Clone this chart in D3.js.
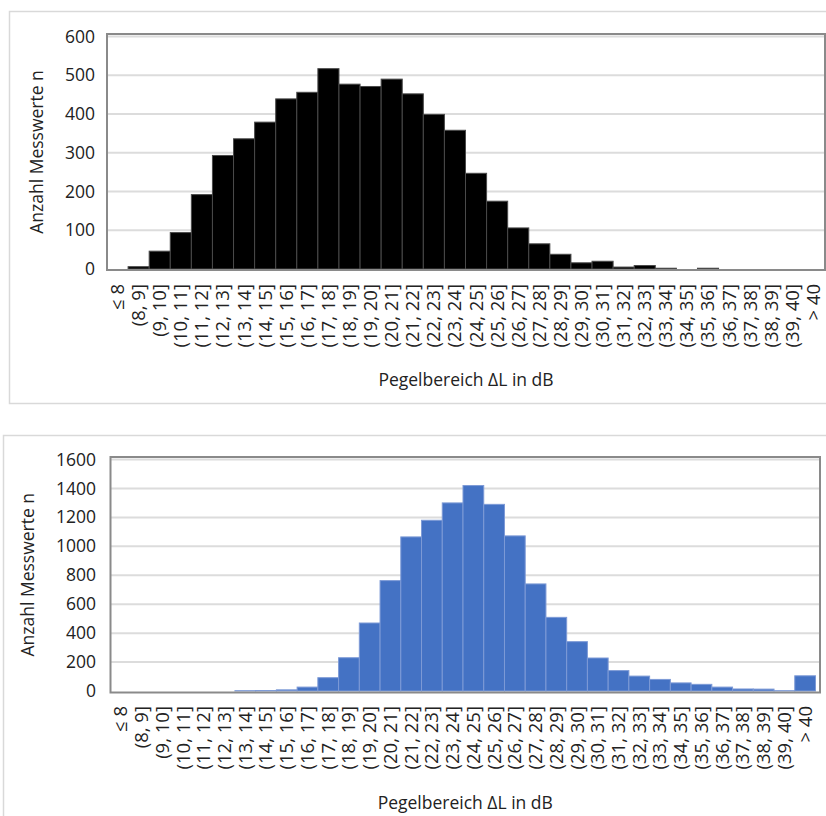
<!DOCTYPE html>
<html>
<head>
<meta charset="utf-8">
<script src="https://cdn.jsdelivr.net/npm/d3@7"></script>
<style>
  body { margin: 0; background: #fff; }
</style>
</head>
<body>
<div id="chart"></div>
<script>
// level range classes (dB)
const categories = [
  "≤ 8", "(8, 9]", "(9, 10]", "(10, 11]", "(11, 12]", "(12, 13]", "(13, 14]", "(14, 15]",
  "(15, 16]", "(16, 17]", "(17, 18]", "(18, 19]", "(19, 20]", "(20, 21]", "(21, 22]", "(22, 23]",
  "(23, 24]", "(24, 25]", "(25, 26]", "(26, 27]", "(27, 28]", "(28, 29]", "(29, 30]", "(30, 31]",
  "(31, 32]", "(32, 33]", "(33, 34]", "(34, 35]", "(35, 36]", "(36, 37]", "(37, 38]", "(38, 39]",
  "(39, 40]", "> 40"
];

const countsTop = [
  0, 6, 46, 94, 192, 293, 336, 379,
  439, 456, 517, 477, 471, 490, 452, 399,
  358, 247, 175, 106, 65, 38, 16, 20,
  5, 9, 2, 0, 2, 0, 0, 0,
  0, 0
];

const countsBottom = [
  0, 0, 0, 0, 0, 0, 2, 3,
  8, 27, 92, 230, 470, 763, 1065, 1180,
  1300, 1420, 1290, 1072, 740, 509, 341, 228,
  141, 103, 80, 56, 46, 27, 14, 13,
  2, 105
];

const ticksTop = [0, 100, 200, 300, 400, 500, 600];
const ticksBottom = [0, 200, 400, 600, 800, 1000, 1200, 1400, 1600];

const yTitle = "Anzahl Messwerte n";
const xTitle = "Pegelbereich \u0394L in dB";

const width = 826;
const height = 816;
const font = "'Open Sans', sans-serif";

const svg = d3.create("svg")
  .attr("width", width)
  .attr("height", height)
  .attr("viewBox", [0, 0, width, height])
  .style("font-family", font);

function drawChart(cfg) {
  const g = svg.append("g");

  // outer chart border
  g.append("rect")
    .attr("x", cfg.box[0] + 0.5)
    .attr("y", cfg.box[1] + 0.5)
    .attr("width", cfg.box[2])
    .attr("height", cfg.box[3])
    .attr("fill", "#fff")
    .attr("stroke", "#d9d9d9")
    .attr("stroke-width", 1.5);

  const x = d3.scaleBand()
    .domain(categories)
    .range([cfg.barLeft, cfg.barRight])
    .padding(0);

  const y = d3.scaleLinear()
    .domain([0, cfg.max])
    .range([cfg.y0, cfg.yMax]);

  // gridlines
  g.append("g")
    .selectAll("line")
    .data(cfg.ticks.slice(1))
    .join("line")
    .attr("x1", cfg.left)
    .attr("x2", cfg.right)
    .attr("y1", d => y(d))
    .attr("y2", d => y(d))
    .attr("stroke", "#dcdcdc")
    .attr("stroke-width", 2);

  g.append("g")
    .selectAll("rect")
    .data(cfg.values)
    .join("rect")
    .attr("x", (d, i) => x(categories[i]))
    .attr("y", d => y(d))
    .attr("width", x.bandwidth())
    .attr("height", d => y(0) - y(d))
    .attr("fill", cfg.fill)
    .attr("stroke", d => d > 0 ? cfg.stroke : "none")
    .attr("stroke-width", 1);

  // plot area frame
  g.append("rect")
    .attr("x", cfg.left)
    .attr("y", cfg.frameTop)
    .attr("width", cfg.right - cfg.left)
    .attr("height", cfg.frameBottom - cfg.frameTop)
    .attr("fill", "none")
    .attr("stroke", "#8a8a8a")
    .attr("stroke-width", 2);

  // y axis labels
  const yAxis = d3.axisLeft(y)
    .tickValues(cfg.ticks)
    .tickFormat(d3.format("d"))
    .tickSize(0)
    .tickPadding(0);
  g.append("g")
    .attr("transform", `translate(${cfg.yLabelX},0)`)
    .call(yAxis)
    .call(s => s.select(".domain").remove())
    .selectAll("text")
    .attr("font-family", font)
    .attr("font-size", 17.5)
    .attr("fill", "#222");

  // x axis labels, rotated
  const xAxis = d3.axisBottom(x).tickSize(0).tickPadding(0);
  g.append("g")
    .attr("transform", `translate(0,${cfg.xLabelTop})`)
    .call(xAxis)
    .call(s => s.select(".domain").remove())
    .selectAll("text")
    .attr("font-family", font)
    .attr("font-size", 18.5)
    .attr("fill", "#222")
    .attr("text-anchor", "end")
    .attr("y", 0)
    .attr("x", 0)
    .attr("dy", "0.35em")
    .attr("transform", "rotate(-90)");

  g.append("text")
    .attr("transform", `translate(${cfg.yTitleX},${(cfg.frameTop + cfg.frameBottom) / 2}) rotate(-90)`)
    .attr("text-anchor", "middle")
    .attr("dy", "0.35em")
    .attr("font-size", 17.5)
    .attr("fill", "#222")
    .text(yTitle);

  g.append("text")
    .attr("x", (cfg.left + cfg.right) / 2)
    .attr("y", cfg.xTitleY)
    .attr("text-anchor", "middle")
    .attr("dy", "0.35em")
    .attr("font-size", 17.5)
    .attr("fill", "#222")
    .text(xTitle);
}

drawChart({
  values: countsTop,
  ticks: ticksTop,
  max: 600,
  box: [9, 11, 830, 392],
  left: 107, right: 825,
  barLeft: 107, barRight: 824,
  y0: 269, yMax: 36.5,
  frameTop: 34, frameBottom: 270,
  yLabelX: 95, yTitleX: 37,
  xLabelTop: 284, xTitleY: 380,
  fill: "#000", stroke: "#4a4a4a"
});

drawChart({
  values: countsBottom,
  ticks: ticksBottom,
  max: 1600,
  box: [3, 435, 830, 400],
  left: 110.5, right: 820,
  barLeft: 110.5, barRight: 815.5,
  y0: 691, yMax: 459.5,
  frameTop: 457, frameBottom: 692.5,
  yLabelX: 96, yTitleX: 28,
  xLabelTop: 706, xTitleY: 803,
  fill: "#4472c4", stroke: "#7d9ad6"
});

document.getElementById("chart").appendChild(svg.node());
</script>
</body>
</html>
